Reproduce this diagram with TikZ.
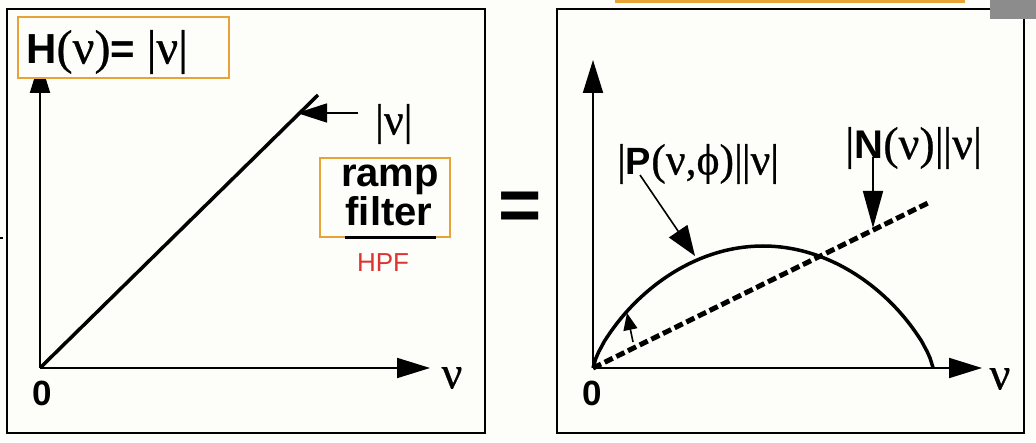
\documentclass[tikz,border=0pt]{standalone}
\usepackage{fontspec}
\setmainfont{Liberation Sans}
\newfontfamily\grkfont[Scale=1.15,FakeBold=0.6]{Liberation Serif}
\usepackage{tkz-euclide}
\usetikzlibrary{arrows.meta,calc}
\definecolor{PaperClr}{rgb}{0.992,0.992,0.976}
\definecolor{BoxClr}{rgb}{0.91,0.64,0.22}
\definecolor{HpfClr}{rgb}{0.87,0.2,0.2}
\definecolor{TagClr}{rgb}{0.55,0.55,0.55}
\newcommand{\grk}[1]{{\grkfont #1}}

\begin{document}
\begin{tikzpicture}[x=1pt,y=1pt,
  panel/.style={line width=2pt,draw=black},
  markbox/.style={line width=2.5pt,draw=BoxClr,fill=PaperClr},
  axisline/.style={line width=2pt,-{Triangle[length=33pt,width=20pt]}},
  pointer/.style={line width=1.6pt,-{Triangle[length=30pt,width=22pt]}},
  lbl/.style={inner sep=0pt,font=\fontsize{40}{40}\selectfont}]
\useasboundingbox[fill=PaperClr] (0,0) rectangle (1036,442);

\tkzDefPoints{7/9/L1,485/433/L2,557/9/R1,1024/433/R2}
\tkzDefPoints{40/74/O1,40/382/Y1,430/74/X1,318/347/E1,358/329/A1,297/329/A2}
\tkzDefPoints{593/74/O2,593/382/Y2,982/74/X2,928/239/D2}
\tkzDefPoints{873/285/N1,873/214/N2,640/267/P1,695/186/P2,633/100/S1,627/129/S2}

% the two panels
\draw[panel] (L1) rectangle (L2);
\draw[panel] (R1) rectangle (R2);
\draw[line width=1.5pt] (0,204) -- (3,204);

% left panel: ramp filter
\draw[axisline] (O1) -- (Y1);
\draw[axisline] (O1) -- (X1);
\draw[line width=3.5pt] (O1) -- (E1);
\draw[pointer,-{Triangle[length=30pt,width=19pt]}] (A1) -- (A2);

\draw[markbox] (18,364) rectangle (229,425);
\node[lbl,anchor=west,font=\fontsize{42}{42}\selectfont] (Hnu) at (26,390)
  {\textbf{H}\grk{(ν)}\textbf{=} \grk{|ν|}};
\node[lbl,anchor=west,font=\fontsize{38}{38}\selectfont] (absnu) at (375,318) {\grk{|ν|}};

\draw[markbox] (320,205) rectangle (450,284);
\node[lbl,anchor=base] (ramp) at (390,255) {\bfseries ramp};
\node[lbl,anchor=base] (filter) at (389,216) {\bfseries filter};
\draw[line width=3pt] (345,204) -- (436,204);
\node[lbl,anchor=base,text=HpfClr,font=\fontsize{26}{26}\selectfont] (hpf) at (383,170) {HPF};

\node[lbl,font=\fontsize{35}{35}\bfseries] (zeroL) at (42,49) {0};
\node[lbl,font=\fontsize{40}{40}\grkfont] (nuL) at (452,64) {ν};

% equals sign
\node[lbl,anchor=base,font=\fontsize{74}{74}\bfseries] (eq) at (520.5,211) {=};

% right panel: projection times ramp
\draw[axisline] (O2) -- (Y2);
\draw[axisline] (O2) -- (X2);
\draw[line width=3.5pt] plot[domain=-1:1,samples=121]
  ({763+170*\x},{74+122*(max(1-(\x)^2,0.00001))^0.75});
\draw[line width=5pt,dash pattern=on 9pt off 4pt] (O2) -- (D2);

\node[lbl,anchor=west,font=\fontsize{38}{38}\selectfont] (Plbl) at (617,278)
  {\grk{|}\textbf{P}\grk{(ν,ϕ)|\kern-1pt|ν|}};
\node[lbl,anchor=west,font=\fontsize{40}{40}\selectfont] (Nlbl) at (845,294)
  {\grk{|}\textbf{N}\grk{(ν)|\kern-1pt|ν|}};
\draw[pointer] (P1) -- (P2);
\draw[pointer,-{Triangle[length=37pt,width=20pt]}] (N1) -- (N2);
\draw[line width=1.6pt,-{Triangle[length=17pt,width=14pt]}] (S1) -- (S2);

\node[lbl,font=\fontsize{35}{35}\bfseries] (zeroR) at (592,49) {0};
\node[lbl,font=\fontsize{40}{40}\grkfont] (nuR) at (1000,63) {ν};

% cut-off bits at the top edge
\fill[BoxClr] (615,439) rectangle (965,442);
\fill[TagClr] (990,423) rectangle (1036,442);
\end{tikzpicture}
\end{document}
